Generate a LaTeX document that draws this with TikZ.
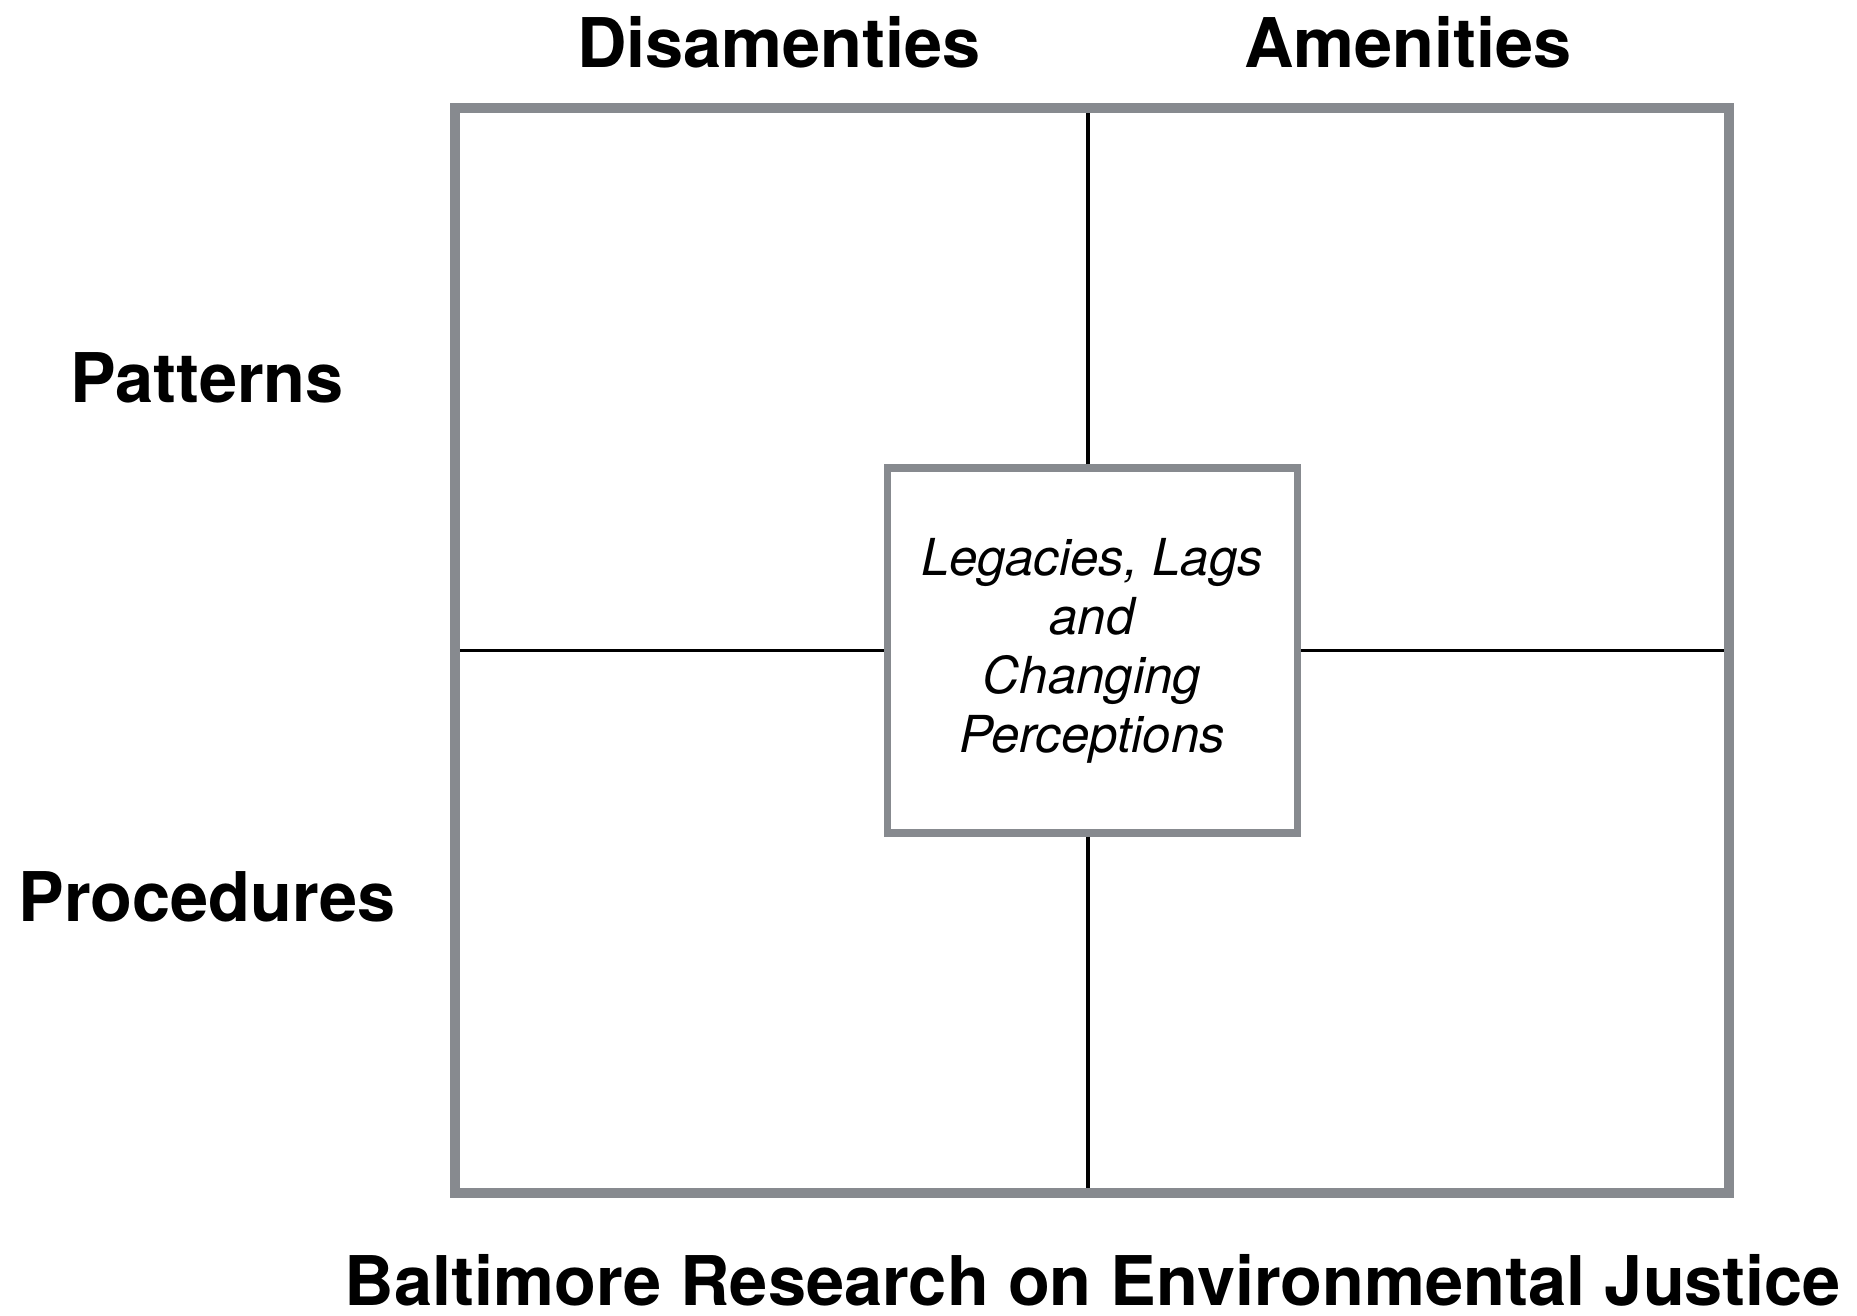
\documentclass[tikz,border=0pt]{standalone}
\usepackage{fontspec}
\setmainfont{TeX Gyre Heros}
\definecolor{framegray}{rgb}{0.53,0.54,0.56}

\begin{document}
\begin{tikzpicture}[line join=miter,
  bigbox/.style={draw=framegray,line width=2.85pt,minimum width=12.74cm,minimum height=10.85cm,inner sep=0pt,outer sep=0pt},
  corebox/.style={draw=framegray,line width=2pt,minimum width=4.1cm,minimum height=3.65cm,inner sep=0pt,outer sep=0pt,align=center,font=\fontsize{14.5}{16.8}\selectfont\itshape},
  heading/.style={anchor=base,font=\fontsize{19.5}{23}\selectfont\bfseries},
  divider/.style={line width=1.1pt,shorten <=1pt,shorten >=1.4pt}]
\useasboundingbox (0,0) rectangle (18.57,13.15);
% Rahmen und Mitte
\node[bigbox] (frame) at (10.92,6.645) {};
\node[corebox] (core) at (10.92,6.645) {Legacies, Lags\\and\\Changing\\Perceptions};
\coordinate (vtop) at ([xshift=-0.04cm]core.north);
\coordinate (vbot) at ([xshift=-0.04cm]core.south);
% Trennlinien
\draw[divider] (vtop) -- (vtop |- frame.north);
\draw[divider] (vbot) -- (vbot |- frame.south);
\draw[divider] (core.west) -- (core.west -| frame.west);
\draw[divider] (core.east) -- (core.east -| frame.east);
% Beschriftungen
\node[heading] (dis) at (7.79,12.48) {Disamenties};
\node[heading] (amen) at (14.08,12.48) {Amenities};
\node[heading] (pat) at (2.07,9.13) {Patterns};
\node[heading] (proc) at (2.07,3.94) {Procedures};
\node[heading] (title) at (10.93,0.1) {Baltimore Research on Environmental Justice};
\end{tikzpicture}
\end{document}
